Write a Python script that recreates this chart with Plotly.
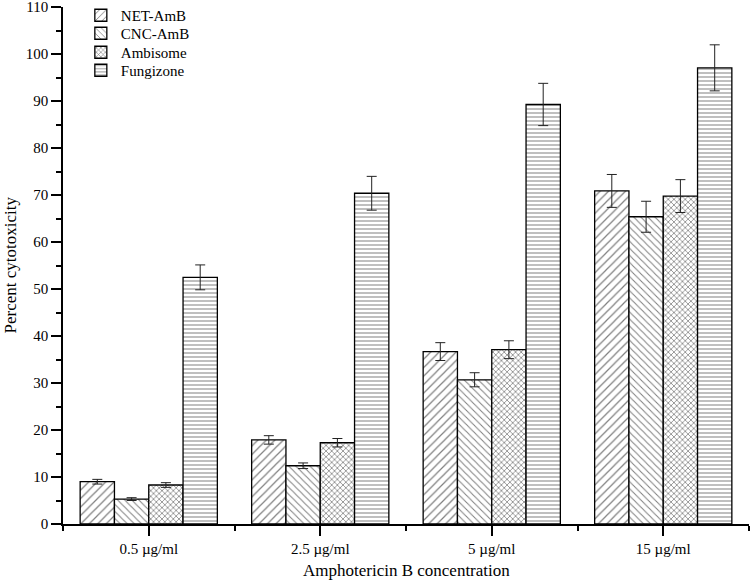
import plotly.graph_objects as go

categories = ["0.5 µg/ml", "2.5 µg/ml", "5 µg/ml", "15 µg/ml"]
series_names = ["NET-AmB", "CNC-AmB", "Ambisome", "Fungizone"]
net_amb = [9.0, 17.9, 36.7, 70.9]
net_amb_err = [0.5, 0.9, 1.9, 3.5]
cnc_amb = [5.3, 12.4, 30.7, 65.4]
cnc_amb_err = [0.3, 0.6, 1.5, 3.3]
ambisome = [8.3, 17.3, 37.1, 69.8]
ambisome_err = [0.5, 0.9, 1.9, 3.5]
fungizone = [52.5, 70.4, 89.3, 97.1]
fungizone_err = [2.65, 3.6, 4.5, 4.9]

values = [net_amb, cnc_amb, ambisome, fungizone]
errors = [net_amb_err, cnc_amb_err, ambisome_err, fungizone_err]
shapes = ["/", "\\", "x", "-"]
sizes = [6, 5, 4, 4]
solid = [0.2, 0.2, 0.35, 0.25]
legend_ids = ["legend", "legend2", "legend3", "legend4"]
legend_y = [1.0155, 0.9807, 0.9439, 0.9091]

x = list(range(len(categories)))
fig = go.Figure()
for name, v, e, sh, sz, so, lg in zip(series_names, values, errors, shapes, sizes, solid, legend_ids):
    fig.add_trace(go.Bar(
        x=x, y=v, name=name, legend=lg,
        marker=dict(color="white",
                    line=dict(color="black", width=1.3),
                    pattern=dict(shape=sh, fgcolor="black", bgcolor="white",
                                 size=sz, solidity=so, fillmode="overlay")),
        error_y=dict(type="data", array=e, visible=True, color="#222",
                     thickness=1, width=5),
    ))

font = "Liberation Serif, Times New Roman, serif"
legend_layout = {}
for lg, ly in zip(legend_ids, legend_y):
    legend_layout[lg] = dict(x=0.026, y=ly, xanchor="left", yanchor="top",
                             bgcolor="rgba(0,0,0,0)", font=dict(size=15),
                             itemwidth=30)
fig.update_layout(
    width=750, height=580,
    barmode="group", bargap=0.2, bargroupgap=0,
    plot_bgcolor="white", paper_bgcolor="white",
    margin=dict(l=63, r=1, t=7, b=56, autoexpand=False),
    font=dict(family=font, size=15, color="black"),
    showlegend=True,
    annotations=[
        dict(text="Amphotericin B concentration", xref="paper", yref="paper",
             x=0.5, y=0, yanchor="middle", xanchor="center", yshift=-46,
             showarrow=False, font=dict(size=17)),
        dict(text="Percent cytotoxicity", xref="paper", yref="paper",
             x=0, y=0.5, xanchor="center", yanchor="middle", xshift=-53,
             textangle=-90, showarrow=False, font=dict(size=17)),
    ],
    **legend_layout,
)
fig.update_xaxes(
    range=[-0.5, 3.5], tickmode="array", tickvals=x, ticktext=categories,
    showline=True, linecolor="black", linewidth=1.5,
    ticks="outside", ticklen=10, tickwidth=1.5, tickcolor="black",
    minor=dict(tickmode="array", tickvals=[-0.5, 0.5, 1.5, 2.5, 3.5],
               ticks="outside", ticklen=5, tickwidth=1.5, tickcolor="black"),
    showgrid=False, zeroline=False,
    tickfont=dict(size=15),
)
fig.update_yaxes(
    range=[0, 110.05], tickmode="linear", tick0=0, dtick=10,
    showline=True, linecolor="black", linewidth=1.5,
    ticks="outside", ticklen=10, tickwidth=1.5, tickcolor="black",
    minor=dict(dtick=5, ticks="outside", ticklen=5, tickwidth=1.5, tickcolor="black"),
    showgrid=False, zeroline=False, ticklabeloverflow="allow",
    tickfont=dict(size=15),
)
fig.write_html("out.html", config={"displayModeBar": False},
               post_script="document.body.style.margin='0';document.body.style.overflow='hidden';")
